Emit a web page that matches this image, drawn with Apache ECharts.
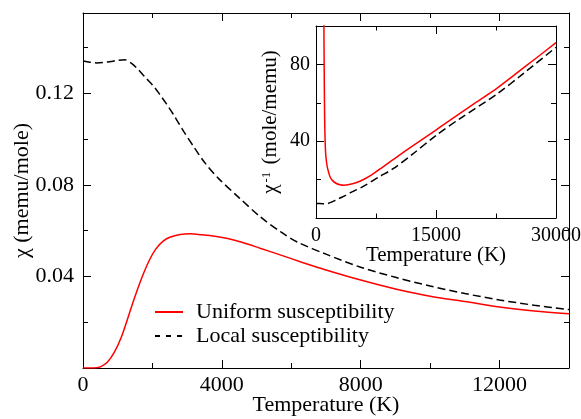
<!DOCTYPE html>
<html>
<head>
<meta charset="utf-8">
<script src="https://cdn.jsdelivr.net/npm/echarts@6/dist/echarts.min.js"></script>
<style>
html,body{margin:0;padding:0;background:#fff;}
#c{width:581px;height:419px;}
</style>
</head>
<body>
<div id="c"></div>
<script>
// ---- Main panel: chi vs T ----
const uniformT   = [0, 300, 500, 700, 900, 1100, 1300, 1500, 1700, 1900, 2100, 2300, 2500, 2800, 3100, 3400, 3800, 4200, 4600, 5100, 5700, 6300, 7000, 8000, 9000, 10000, 11000, 12000, 13000, 14000];
const uniformChi = [0, 0, 0.0005, 0.0025, 0.0068, 0.0133, 0.0222, 0.0313, 0.0396, 0.0467, 0.0520, 0.0553, 0.0571, 0.0583, 0.0586, 0.0582, 0.0575, 0.0564, 0.0548, 0.0523, 0.0493, 0.0462, 0.0428, 0.0384, 0.0345, 0.0313, 0.0290, 0.0266, 0.0249, 0.0237];
const localT     = [0, 200, 400, 700, 1000, 1200, 1400, 1600, 1800, 2000, 2200, 2400, 2600, 2900, 3200, 3500, 3900, 4500, 5100, 5700, 6200, 7000, 8000, 9000, 10000, 11000, 12000, 13000, 14000];
const localChi   = [0.1340, 0.1335, 0.1332, 0.1336, 0.1343, 0.1346, 0.1330, 0.1302, 0.1268, 0.1236, 0.1197, 0.1154, 0.1108, 0.1033, 0.0964, 0.0898, 0.0828, 0.0743, 0.0661, 0.0594, 0.0548, 0.0497, 0.0440, 0.0396, 0.0358, 0.0325, 0.0297, 0.0274, 0.0255];
// ---- Inset: 1/chi vs T ----
const insetUniT   = [980, 1020, 1060, 1100, 1200, 1350, 1500, 1750, 2050, 2500, 3000, 3500, 4000, 5000, 6000, 7000, 8300, 10000, 12000, 14300, 16000, 18000, 20000, 22600, 25000, 27500, 30000];
const insetUniInv = [105, 80, 60, 47, 34, 28, 25, 21.5, 19.6, 18.1, 17.3, 17.05, 17.3, 18.4, 20.2, 22.6, 26.4, 31.5, 37.3, 43.8, 48.8, 54.5, 60.2, 67.5, 75.2, 83.2, 91.3];
const insetLocT   = [0, 500, 1000, 1500, 2000, 2500, 3000, 3700, 4500, 5800, 7870, 9700, 12000, 15000, 18000, 22600, 26000, 30000];
const insetLocInv = [7.5, 7.5, 7.45, 7.6, 8.4, 9.4, 10.4, 11.8, 13.6, 16.2, 21.4, 25.8, 33.0, 43.0, 51.8, 64.5, 75.5, 88.9];
// tick settings
const mainXTicks = {min: 0, max: 14000, major: 4000, minor: 2000};
const mainYTicks = {min: 0, max: 0.155, major: 0.04, minor: 0.02};
const insetXTicks = {min: 0, max: 30000, major: 15000, minor: 7500};
const insetYTicks = {min: 0, max: 100, major: 40, minor: 20};

const FONT = 'Liberation Serif';
const zip = (a, b) => a.map((v, i) => [v, b[i]]);

function axesFor(dim, grid, t, opts) {
  const posA = dim === 'x' ? 'bottom' : 'left';
  const posB = dim === 'x' ? 'top' : 'right';
  const base = {type: 'value', gridIndex: grid, min: t.min, max: t.max, splitLine: {show: false}};
  const list = [];
  list.push(Object.assign({}, base, {
    position: posA, interval: t.major,
    axisLine: {show: true, onZero: false, lineStyle: {color: '#000', width: 1}},
    axisTick: {show: true, inside: true, length: opts.majorLen, lineStyle: {color: '#000', width: 1}},
    axisLabel: {show: true, margin: opts.labelMargin, fontFamily: FONT, fontSize: opts.fontSize, color: '#000',
      formatter: opts.formatter},
    name: opts.name, nameLocation: 'middle', nameGap: opts.nameGap, nameMoveOverlap: false,
    nameTextStyle: opts.nameTextStyle
  }));
  list.push(Object.assign({}, base, {
    position: posA, interval: t.minor,
    axisLine: {show: false, onZero: false},
    axisTick: {show: true, inside: true, length: opts.minorLen, lineStyle: {color: '#000', width: 1}},
    axisLabel: {show: false}
  }));
  list.push(Object.assign({}, base, {
    position: posB, interval: t.major,
    axisLine: {show: true, onZero: false, lineStyle: {color: '#000', width: 1}},
    axisTick: {show: true, inside: true, length: opts.majorLen, lineStyle: {color: '#000', width: 1}},
    axisLabel: {show: false}
  }));
  list.push(Object.assign({}, base, {
    position: posB, interval: t.minor,
    axisLine: {show: false, onZero: false},
    axisTick: {show: true, inside: true, length: opts.minorLen, lineStyle: {color: '#000', width: 1}},
    axisLabel: {show: false}
  }));
  return list;
}

function isMult(v, step) {
  const r = v / step;
  return Math.abs(r - Math.round(r)) < 1e-6;
}

const xAxes = [].concat(
  axesFor('x', 0, mainXTicks, {majorLen: 8, minorLen: 5, labelMargin: 6, fontSize: 22,
    formatter: v => isMult(v, mainXTicks.major) ? String(v) : '',
    name: 'Temperature (K)', nameGap: 26,
    nameTextStyle: {fontFamily: FONT, fontSize: 22, color: '#000'}}),
  axesFor('x', 1, insetXTicks, {majorLen: 8, minorLen: 4.5, labelMargin: 8, fontSize: 20,
    formatter: v => isMult(v, insetXTicks.major) ? String(v) : '',
    name: 'Temperature (K)', nameGap: 27,
    nameTextStyle: {fontFamily: FONT, fontSize: 21, color: '#000'}})
);
const yAxes = [].concat(
  axesFor('y', 0, mainYTicks, {majorLen: 8, minorLen: 5, labelMargin: 9, fontSize: 22,
    formatter: v => (v > 0 && isMult(v, mainYTicks.major)) ? v.toFixed(2) : '',
    name: 'χ (memu/mole)', nameGap: 50,
    nameTextStyle: {fontFamily: FONT, fontSize: 22, color: '#000'}}),
  axesFor('y', 1, insetYTicks, {majorLen: 8, minorLen: 5, labelMargin: 6, fontSize: 20,
    formatter: v => (v > 0 && isMult(v, insetYTicks.major)) ? String(v) : '',
    name: '{a|χ}{s|-1}{a| (mole/memu)}', nameGap: 35,
    nameTextStyle: {fontFamily: FONT, fontSize: 21, color: '#000',
      rich: {a: {fontFamily: FONT, fontSize: 21, color: '#000', verticalAlign: 'bottom'},
             s: {fontFamily: FONT, fontSize: 13, color: '#000', verticalAlign: 'top', padding: [0, 2, 0, 2]}}}})
);

const lineBase = {type: 'line', symbol: 'none', smooth: 0.3, clip: true};
const option = {
  animation: false,
  backgroundColor: '#fff',
  grid: [
    {left: 83, top: 13, width: 486, height: 355, show: false, outerBoundsMode: 'none', containLabel: false},
    {left: 316, top: 26, width: 240, height: 192, show: true, backgroundColor: '#fff', borderWidth: 0, outerBoundsMode: 'none', containLabel: false}
  ],
  xAxis: xAxes,
  yAxis: yAxes,
  legend: {
    left: 149, top: 296, orient: 'vertical', itemWidth: 28, itemHeight: 14, itemGap: 2,
    itemStyle: {opacity: 0},
    textStyle: {fontFamily: FONT, fontSize: 22, color: '#000', padding: [0, 0, 0, 8], lineHeight: 22},
    data: [
      {name: 'Uniform susceptibility'},
      {name: 'Local susceptibility', lineStyle: {type: [5, 6]}}
    ]
  },
  series: [
    Object.assign({}, lineBase, {name: 'Uniform susceptibility', xAxisIndex: 0, yAxisIndex: 0,
      data: zip(uniformT, uniformChi), lineStyle: {color: '#ff0000', width: 1.5}, itemStyle: {color: '#ff0000'}}),
    Object.assign({}, lineBase, {name: 'Local susceptibility', xAxisIndex: 0, yAxisIndex: 0,
      data: zip(localT, localChi), lineStyle: {color: '#000', width: 1.5, type: [8, 4]}, itemStyle: {color: '#000'}}),
    Object.assign({}, lineBase, {name: 'Uniform susceptibility', xAxisIndex: 4, yAxisIndex: 4,
      data: zip(insetUniT, insetUniInv), lineStyle: {color: '#ff0000', width: 1.5}, itemStyle: {color: '#ff0000'}}),
    Object.assign({}, lineBase, {name: 'Local susceptibility', xAxisIndex: 4, yAxisIndex: 4,
      data: zip(insetLocT, insetLocInv), lineStyle: {color: '#000', width: 1.5, type: [8, 4]}, itemStyle: {color: '#000'}})
  ]
};
const chart = echarts.init(document.getElementById('c'), null, {renderer: 'canvas'});
chart.setOption(option);
</script>
</body>
</html>
